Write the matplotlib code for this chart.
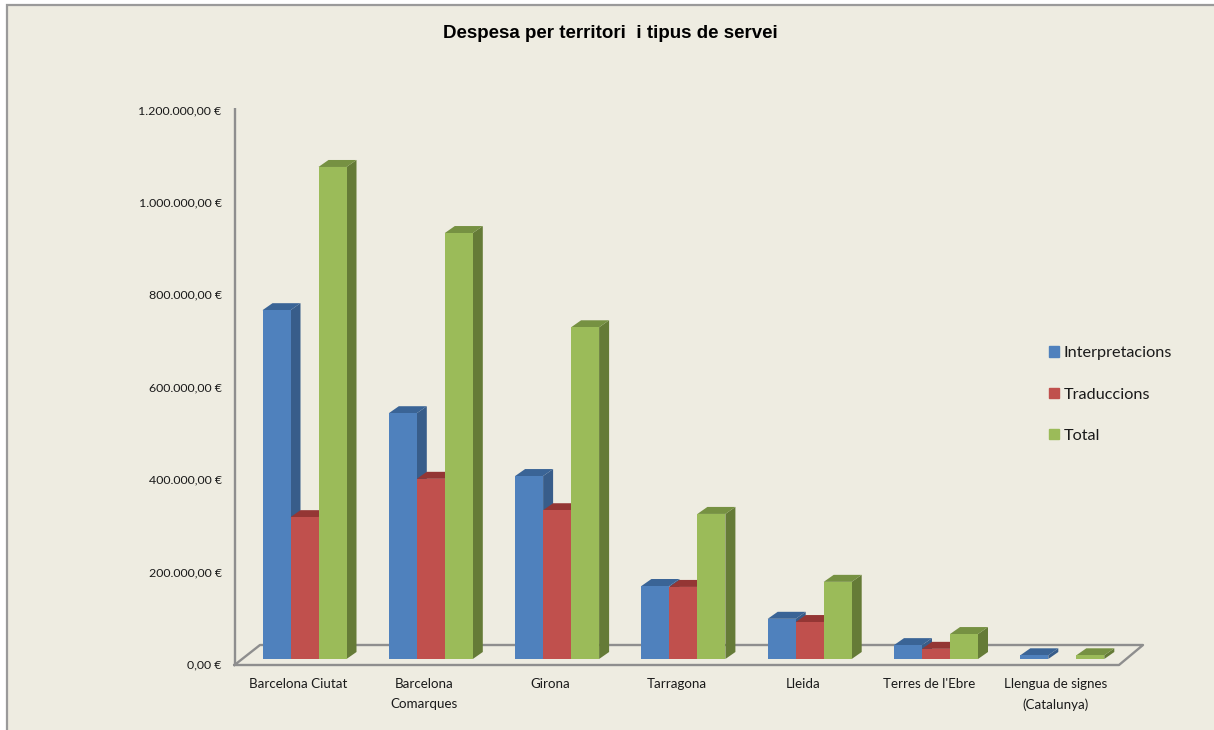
"""Despesa per territori i tipus de servei, drawn as a fake 3D column chart"""

import matplotlib
matplotlib.use("Agg")
import matplotlib.pyplot as plt
from matplotlib.patches import Patch, Polygon, Rectangle

territories = ["Barcelona Ciutat", "Barcelona\nComarques", "Girona", "Tarragona",
               "Lleida", "Terres de l'Ebre", "Llengua de signes\n(Catalunya)"]
series_names = ["Interpretacions", "Traduccions", "Total"]
interpretacions = [755000, 532000, 396000, 158000, 87000, 30000, 8000]
traduccions = [307000, 390000, 322000, 156000, 80000, 22000, 0]
total = [1065000, 922000, 718000, 314000, 167000, 54000, 8000]
tick_values = [0, 200000, 400000, 600000, 800000, 1000000, 1200000]
tick_labels = ["0,00 €", "200.000,00 €", "400.000,00 €", "600.000,00 €",
               "800.000,00 €", "1.000.000,00 €", "1.200.000,00 €"]

front_colors = ["#4F81BD", "#C0504D", "#9BBB59"]
top_colors = ["#3A6496", "#943634", "#769142"]
side_colors = ["#385D8A", "#8C3836", "#657B37"]

BG = "#EEECE1"
GREY = "#8E8E8E"
UI_FONT = ["Lato", "DejaVu Sans"]

W, H = 1214, 730
X0_PX, PITCH_PX = 304.5, 126.3   # first category centre, category spacing
Y0_PX, PX_200K = 659.0, 92.4     # bar base, pixels per 200.000


def px_x(p):
    return (p - X0_PX) / PITCH_PX


def px_y(p):
    return (Y0_PX - p) / PX_200K * 200000


DX = 1 / PITCH_PX                # one pixel in x data units
DY = 200000 / PX_200K            # one pixel in y data units
BAR_W = 28 * DX
DEPTH_X, DEPTH_Y = 10 * DX, 7 * DY

fig = plt.figure(figsize=(W / 100, H / 100), dpi=100, facecolor="white")
ax = fig.add_axes([0, 0, 1, 1])
ax.set_xlim(px_x(0), px_x(W))
ax.set_ylim(px_y(H), px_y(0))
ax.axis("off")

# chart area with its thin frame, runs off the right and bottom edges
ax.add_patch(Rectangle((px_x(6.5), px_y(H + 5)), 1300 * DX, (H - 0.5) * DY,
                       facecolor=BG, edgecolor="#9A9A9A", linewidth=1.6, zorder=0))

# wall and floor lines
ax.plot([px_x(234.5), px_x(234.5)], [px_y(108), px_y(665)], color=GREY, lw=1.7,
        zorder=1, solid_capstyle="butt")
floor_x = [px_x(234.5), px_x(260), px_x(1143), px_x(1119), px_x(234.5)]
floor_y = [px_y(665), px_y(645), px_y(645), px_y(665), px_y(665)]
ax.plot(floor_x, floor_y, color=GREY, lw=1.7, zorder=1)

# columns, left to right so each one covers the side of the previous
for s, values in enumerate([interpretacions, traduccions, total]):
    for i, v in enumerate(values):
        if v == 0:
            continue
        x = i + (s - 1) * BAR_W
        left, right = x - BAR_W / 2, x + BAR_W / 2
        z = 3 + s
        ax.add_patch(Polygon([(right, 0), (right + DEPTH_X, DEPTH_Y),
                              (right + DEPTH_X, v + DEPTH_Y), (right, v)],
                             facecolor=side_colors[s], edgecolor="none", zorder=z))
        ax.add_patch(Polygon([(left, v), (right, v),
                              (right + DEPTH_X, v + DEPTH_Y), (left + DEPTH_X, v + DEPTH_Y)],
                             facecolor=top_colors[s], edgecolor="none", zorder=z))
    ax.bar([i + (s - 1) * BAR_W for i in range(len(values))], values, width=BAR_W,
           color=front_colors[s], zorder=3.5 + s, linewidth=0)

# y tick labels
for v, lab in zip(tick_values, tick_labels):
    ax.annotate(lab, xy=(px_x(221.5), v), xytext=(0, -4.2), textcoords="offset points",
                ha="right", va="center", fontsize=8.9, family=UI_FONT, color="#1A1A1A")

# category labels
for i, name in enumerate(territories):
    ax.text(i - 6.5 * DX, px_y(678.5), name, ha="center", va="top", fontsize=9.6,
            family=UI_FONT, color="#1A1A1A", linespacing=1.8)

ax.text(px_x(610.5), px_y(33), "Despesa per territori  i tipus de servei", ha="center",
        va="center", fontsize=13.5, fontweight="bold", family=["Liberation Sans"], color="black")

handles = [Patch(color=c, label=n) for c, n in zip(front_colors, series_names)]
ax.legend(handles=handles, loc="center left", bbox_to_anchor=(1034 / W, 1 - 394.5 / H),
          bbox_transform=fig.transFigure, frameon=False, handlelength=0.62, handleheight=0.62,
          handletextpad=0.31, labelspacing=1.68,
          prop={"family": UI_FONT, "size": 11.7}, labelcolor="#1A1A1A")

fig.savefig("out.png", dpi=100)
